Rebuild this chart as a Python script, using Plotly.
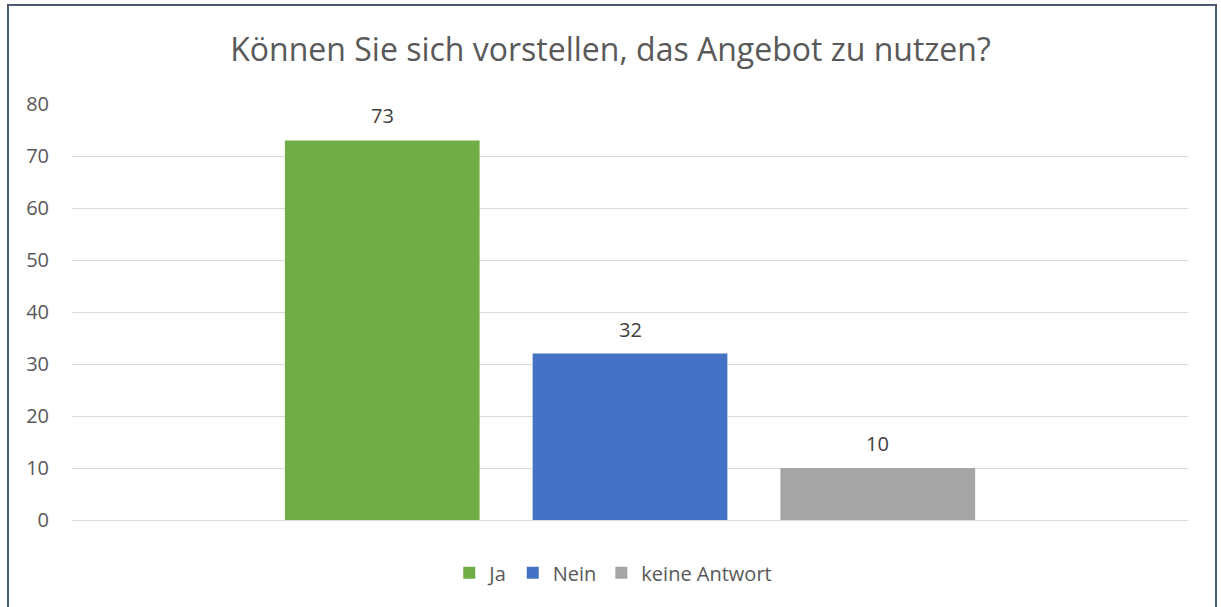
import plotly.graph_objects as go

title = "Können Sie sich vorstellen, das Angebot zu nutzen?"
series_names = ["Ja", "Nein", "keine Antwort"]
series_values = [73, 32, 10]
series_colors = ["#70AD47", "#4472C4", "#A5A5A5"]
category_pos = [0]
y_ticks = [0, 10, 20, 30, 40, 50, 60, 70, 80]

FONT = "Open Sans, Lato, sans-serif"
BARGAP = 0.334
BARGROUPGAP = 0.214

fig = go.Figure()
for name, val, col in zip(series_names, series_values, series_colors):
    fig.add_trace(go.Bar(
        name=name, x=category_pos, y=[val],
        marker=dict(color=col, line=dict(width=0)),
        hoverinfo="name+y",
    ))

# data labels above bars, placed via the data coordinates of each bar
n = len(series_values)
group_w = 1 - BARGAP
slot = group_w / n
annotations = []
for i, val in enumerate(series_values):
    xc = category_pos[0] - group_w / 2 + slot * (i + 0.5)
    annotations.append(dict(x=xc, y=val, xref="x", yref="y", text=str(val), showarrow=False,
                            yanchor="bottom", yshift=9,
                            font=dict(size=20, color="#404040", family=FONT)))

fig.update_layout(
    width=1221, height=607,
    margin=dict(l=72, r=33, t=104, b=87),
    paper_bgcolor="white", plot_bgcolor="white",
    barmode="group", bargap=BARGAP, bargroupgap=BARGROUPGAP,
    title=dict(text=title, x=0.5, xanchor="center", y=1 - 50 / 607, yanchor="middle",
               font=dict(size=32, color="#595959", family=FONT)),
    font=dict(family=FONT, color="#595959", size=20),
    showlegend=True,
    legend=dict(orientation="h", x=0.485, xanchor="center", y=-0.127, yanchor="middle",
                font=dict(size=20, color="#595959"), traceorder="normal",
                itemwidth=30),
    xaxis=dict(range=[-0.5, 0.5], showticklabels=False, showgrid=False, zeroline=False,
               showline=False, fixedrange=True),
    yaxis=dict(range=[0, 80], tickvals=y_ticks, showgrid=True, gridcolor="#D9D9D9", gridwidth=1.3,
               zeroline=True, zerolinecolor="#D9D9D9", zerolinewidth=1.3, showline=False,
               ticks="", ticklabelstandoff=22, tickfont=dict(size=20, color="#595959")),
    annotations=annotations,
    shapes=[dict(type="rect", xref="paper", yref="paper",
                 x0=(8 - 72) / 1116, x1=(1216 - 72) / 1116,
                 y0=(520 - 615) / 416, y1=(520 - 5) / 416,
                 line=dict(color="#4A5A72", width=2), fillcolor="rgba(0,0,0,0)", layer="below")],
)

fig.write_html("out.html", config={"displayModeBar": False},
               post_script="document.body.style.margin='0px';")
